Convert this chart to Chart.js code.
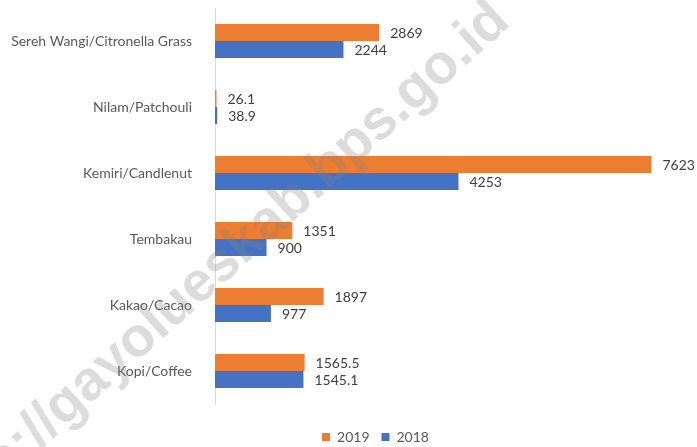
<!DOCTYPE html>
<html>
<head>
<meta charset="utf-8">
<script src="https://cdn.jsdelivr.net/npm/chart.js@4"></script>
<style>
  html, body { margin: 0; padding: 0; background: #fff; }
  #wrap { width: 697px; height: 447px; }
</style>
</head>
<body>
<div id="wrap"><canvas id="barChart" width="697" height="447"></canvas></div>
<script>
const categories = [
    "Sereh Wangi/Citronella Grass",
    "Nilam/Patchouli",
    "Kemiri/Candlenut",
    "Tembakau",
    "Kakao/Cacao",
    "Kopi/Coffee",
];
const values2019 = [2869, 26.1, 7623, 1351, 1897, 1565.5];
const values2018 = [2244, 38.9, 4253, 900, 977, 1545.1];
const seriesLabels = ["2019", "2018"];
const watermarkText = "https://gayolueskab.bps.go.id";

const FONT = "Lato, 'Open Sans', sans-serif";

// etiquetas de valor al final de cada barra
const valueLabels = {
    id: "valueLabels",
    afterDatasetsDraw(chart) {
        const ctx = chart.ctx;
        ctx.save();
        ctx.font = "14px " + FONT;
        ctx.fillStyle = "#404040";
        ctx.textAlign = "left";
        ctx.textBaseline = "middle";
        chart.data.datasets.forEach((ds, i) => {
            chart.getDatasetMeta(i).data.forEach((bar, j) => {
                ctx.fillText(String(ds.data[j]), bar.x + 11, bar.y + 1);
            });
        });
        ctx.restore();
    },
};

// la leyenda va algo a la derecha del centro del lienzo
const legendShift = {
    id: "legendShift",
    afterLayout(chart) {
        if (chart.legend) {
            chart.legend.left += 39;
            chart.legend.right += 39;
        }
    },
};

// marca de agua diagonal
const watermark = {
    id: "watermark",
    afterDraw(chart) {
        const ctx = chart.ctx;
        ctx.save();
        ctx.translate(208, 277);
        ctx.rotate(-42 * Math.PI / 180);
        ctx.font = "bold 56px 'Liberation Sans', Arial, sans-serif";
        ctx.fillStyle = "rgba(128,128,128,0.28)";
        ctx.textAlign = "center";
        ctx.textBaseline = "middle";
        ctx.fillText(watermarkText, 0, 0);
        ctx.restore();
    },
};

const ctx = document.getElementById("barChart").getContext("2d");
new Chart(ctx, {
    type: "bar",
    data: {
        labels: categories,
        datasets: [
            {
                label: seriesLabels[0],
                data: values2019,
                backgroundColor: "#ED7D31",
                categoryPercentage: 0.515,
                barPercentage: 1,
            },
            {
                label: seriesLabels[1],
                data: values2018,
                backgroundColor: "#4472C4",
                categoryPercentage: 0.515,
                barPercentage: 1,
            },
        ],
    },
    options: {
        indexAxis: "y",
        responsive: false,
        animation: false,
        layout: { padding: { top: 8, right: 24, bottom: -7, left: 0 } },
        scales: {
            x: {
                min: 0,
                max: 8000,
                grid: { display: false },
                border: { display: false },
                ticks: { display: false },
                afterFit: (scale) => { scale.height = 14; },
            },
            y: {
                grid: { display: false },
                border: { display: true, color: "#d9d9d9", width: 1 },
                ticks: {
                    color: "#595959",
                    font: { family: FONT, size: 14 },
                    padding: 15,
                },
                afterFit: (scale) => {
                    scale.width = 215;
                    // sin margen extra arriba/abajo por el padding de ticks
                    scale.paddingTop = 0;
                    scale.paddingBottom = 0;
                },
            },
        },
        plugins: {
            legend: {
                position: "bottom",
                labels: {
                    color: "#595959",
                    font: { family: FONT, size: 14 },
                    boxWidth: 8,
                    boxHeight: 8,
                    padding: 12,
                },
            },
            tooltip: { enabled: false },
        },
    },
    plugins: [valueLabels, legendShift, watermark],
});
</script>
</body>
</html>
